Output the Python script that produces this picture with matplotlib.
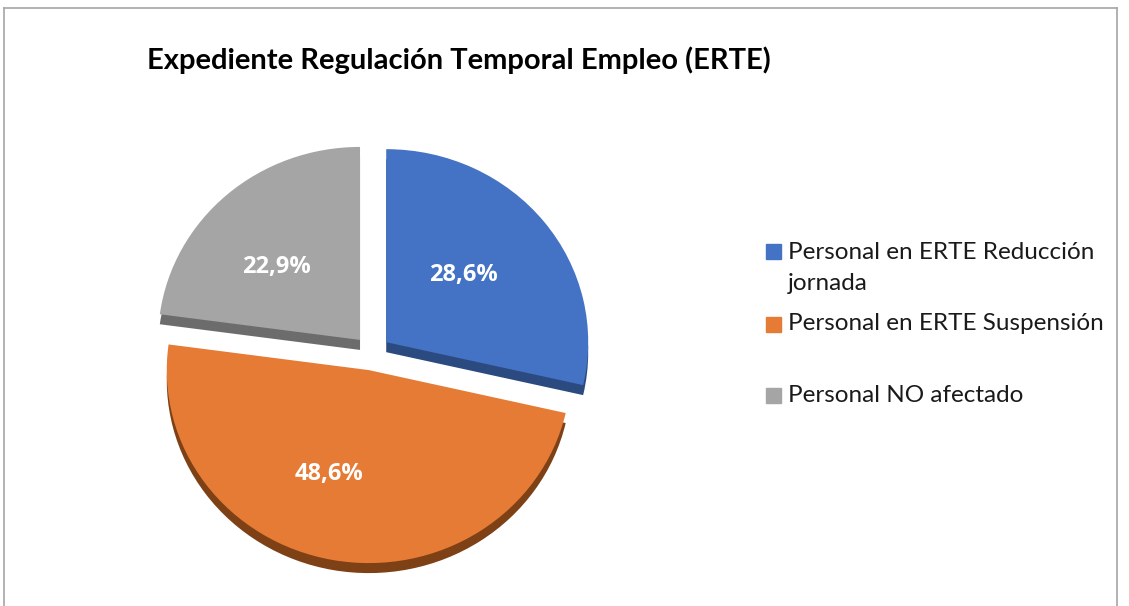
import matplotlib
matplotlib.use("Agg")
import matplotlib.pyplot as plt
from matplotlib.patches import Rectangle
from matplotlib.lines import Line2D
from matplotlib.transforms import offset_copy

# ---------------------------------------------------------------------
# Data
# ---------------------------------------------------------------------
TITLE = "Expediente Regulación Temporal Empleo (ERTE)"
categories = ["Personal en ERTE Reducción\njornada",
              "Personal en ERTE Suspensión",
              "Personal NO afectado"]
values = [28.6, 48.6, 22.9]

top_colors  = ["#4472C4", "#E57B35", "#A5A5A5"]
side_colors = ["#2B4A80", "#7E4015", "#6C6C6C"]

FONT = "Lato"
W, H = 1129, 606
CX, CY = 372, 353          # pie centre in pixels (from top-left)
SX, SY = 202, 193          # pixels per data unit (slight 3D tilt)
DEPTH = 10 / SY
EXPLODE = [0.09] * len(values)
# perspective nudge of the value labels, in pixels (x right, y up)
LABEL_NUDGE = [(-10, 1), (-20, 1), (-10, -7)]


def fmt_pct(p):
    return f"{p:.1f}%".replace(".", ",")


fig = plt.figure(figsize=(W / 100, H / 100), dpi=100)
ax = fig.add_axes([0, 0, 1, 1])

# side (depth) of the 3D pie
ax.pie(values, colors=side_colors, explode=EXPLODE, startangle=90,
       counterclock=False, center=(0, -DEPTH),
       wedgeprops=dict(linewidth=0))
# top face
wedges, _, autotexts = ax.pie(values, colors=top_colors, explode=EXPLODE,
                              startangle=90, counterclock=False,
                              autopct=fmt_pct, pctdistance=0.55,
                              wedgeprops=dict(linewidth=0))
for t, (dx, dy) in zip(autotexts, LABEL_NUDGE):
    t.set_family("Open Sans")
    t.set_weight("bold")
    t.set_size(17)
    t.set_color("white")
    t.set_transform(offset_copy(ax.transData, fig=fig, x=dx, y=dy,
                                units="dots"))

ax.set_aspect("auto")
ax.set_xlim(-CX / SX, (W - CX) / SX)
ax.set_ylim(-(H - CY) / SY, CY / SY)
ax.axis("off")

# title
fig.text(147 / W, 1 - 60 / H, TITLE, fontsize=21, fontweight="bold",
         family=FONT, va="center", ha="left", color="black")

# legend (Excel-style, drawn by hand)
leg_y = [251.5, 324, 395.5]
for cat, col, y in zip(categories, top_colors, leg_y):
    fig.patches.append(Rectangle((766 / W, 1 - (y + 7.5) / H), 15 / W, 15 / H,
                                 transform=fig.transFigure, color=col))
    if "\n" in cat:
        fig.text(788 / W, 1 - (y + 16.5) / H, cat, fontsize=17.5, family=FONT,
                 va="center", ha="left", linespacing=1.58, color="#1a1a1a")
    else:
        fig.text(788 / W, 1 - y / H, cat, fontsize=17.5, family=FONT,
                 va="center", ha="left", color="#1a1a1a")

# chart-area border
for xs, ys in [([4, 4], [8, 606]), ([4, 1117], [8, 8]), ([1117, 1117], [8, 606])]:
    fig.lines.append(Line2D([x / W for x in xs], [1 - y / H for y in ys],
                            transform=fig.transFigure, color="#A6A6A6",
                            linewidth=1.2))

fig.savefig("out.png", dpi=100)
